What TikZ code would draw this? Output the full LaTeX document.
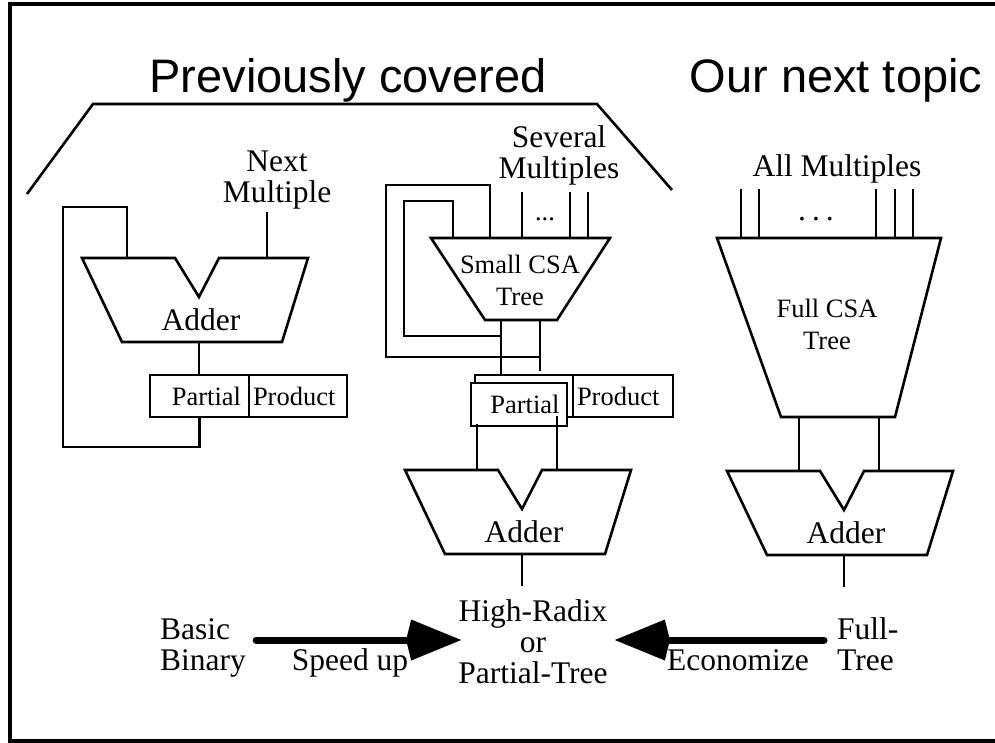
\documentclass[tikz,border=0pt]{standalone}
\usepackage{fontspec}
\setmainfont{Liberation Serif}
\setsansfont{Liberation Sans}
\usetikzlibrary{arrows.meta}

\begin{document}
\begin{tikzpicture}[x=1pt,y=-1pt,
		wire/.style={line width=2.6pt},
		lbl/.style={font=\fontsize{31.5}{31}\selectfont, inner sep=0pt, align=center},
		small/.style={font=\fontsize{26.5}{32}\selectfont, inner sep=0pt, align=center},
		title/.style={font=\sffamily\fontsize{47}{50}\selectfont, inner sep=0pt},
		ppbox/.style={draw, line width=2.6pt, fill=white, outer sep=0pt, minimum height=42pt, inner ysep=0pt, inner xsep=4pt, font=\fontsize{26.5}{32}\selectfont},
		bigarrow/.style={line width=7pt, line cap=round, -{Kite[length=55pt,width=41pt,inset=5pt]}}]
	\useasboundingbox (0,0) rectangle (995,742);
	\draw[line width=4pt] (995,4) -- (9.5,4) -- (9.5,740.5) -- (995,740.5);
	\draw[wire] (27,194) -- (93,104) -- (597,104) -- (672,190);
	\node[title, anchor=base] (prev) at (348,92) {Previously covered};
	\node[title, anchor=base] (next) at (836,92) {Our next topic};

	% the three adders
	\foreach \n/\x/\y in {1/199/258, 2/522/470, 3/844/471}{
			\draw[wire] (\x-117,\y) -- (\x-24,\y) -- (\x,\y+39) -- (\x+20,\y) -- (\x+109,\y) -- (\x+83,\y+84) -- (\x-77,\y+84) -- cycle;
			\node[lbl, anchor=base] (adder\n) at (\x+2,\y+72) {Adder};
			\coordinate (out\n) at (\x,\y+84);
		}

	% basic binary
	\node[lbl, anchor=base] (nextmul) at (277,202) {Next\\Multiple};
	\draw[wire] (267,212) -- (267,258);
	\node[ppbox, text width=83pt, align=right, inner xsep=8pt, anchor=north west] (part1) at (150,375) {Partial};
	\node[ppbox, text width=90pt, align=left, anchor=north west] (prod1) at (part1.north east) {Product};
	\draw[wire] (out1) -- (out1 |- part1.north);
	\draw[wire] (part1.south) -- ++(0,30) -| (63,207) -| (127,258);

	% high-radix / partial tree
	\node[lbl, anchor=base] (several) at (559,178) {Several\\Multiples};
	\foreach \x in {522,570,588}
	\draw[wire] (\x,192) -- (\x,238);
	\node[small, anchor=base] (dots1) at (545,220) {...};
	\draw[wire] (431,238) -- (610,238) -- (557,320) -- (485,320) -- cycle;
	\node[small, anchor=base] (smallcsa) at (520,305) {Small CSA\\Tree};
	\draw[wire] (490,238) -- (490,185) -- (386,185) -- (386,357) -- (540,357);
	\draw[wire] (453,238) -- (453,201) -- (404,201) -- (404,336) -- (501,336);
	\draw[wire] (501,320) -- (501,383);
	\draw[wire] (540,320) -- (540,371);
	\node[ppbox, minimum width=98pt, anchor=north west] (part2b) at (475,375) {};
	\node[ppbox, text width=92pt, align=left, anchor=north west] (prod2) at (part2b.north east) {Product};
	\node[ppbox, text width=81pt, align=right, inner xsep=7.5pt, minimum height=43pt, anchor=north west] (part2) at (471,383) {Partial};
	\draw[wire] (477,424) -- (477,470);
	\draw[wire] (557,416) -- (557,470);
	\draw[wire] (out2) -- ++(0,32);

	% full tree
	\node[lbl, anchor=base] (allmul) at (837,176) {All Multiples};
	\foreach \x in {741,759,876,895,913}
	\draw[wire] (\x,189) -- (\x,238);
	\node[lbl, anchor=base] (dots2) at (816,220) {.\kern6pt.\kern6pt.};
	\draw[wire] (717,238) -- (941,238) -- (895,417) -- (781,417) -- cycle;
	\node[small, anchor=base] (fullcsa) at (827,349) {Full CSA\\Tree};
	\foreach \x in {799,879}
	\draw[wire] (\x,417) -- (\x,471);
	\draw[wire] (out3) -- ++(0,32);

	% bottom row
	\node[lbl, align=left, anchor=base west] (basic) at (160,670) {Basic\\Binary};
	\node[lbl, anchor=base] (mid) at (533,683) {High-Radix\\or\\Partial-Tree};
	\node[lbl, align=left, anchor=base west] (fulltr) at (837,670) {Full-\\Tree};
	\node[lbl, anchor=base] (speed) at (350,670) {Speed up};
	\node[lbl, anchor=base] (econ) at (738,670) {Economize};
	\draw[bigarrow, shorten <=10pt, shorten >=-3pt] (basic.east |- 0,640) -- (mid.west |- 0,640);
	\draw[bigarrow, shorten <=13pt, shorten >=7pt] (fulltr.west |- 0,640) -- (mid.east |- 0,640);
\end{tikzpicture}
\end{document}
